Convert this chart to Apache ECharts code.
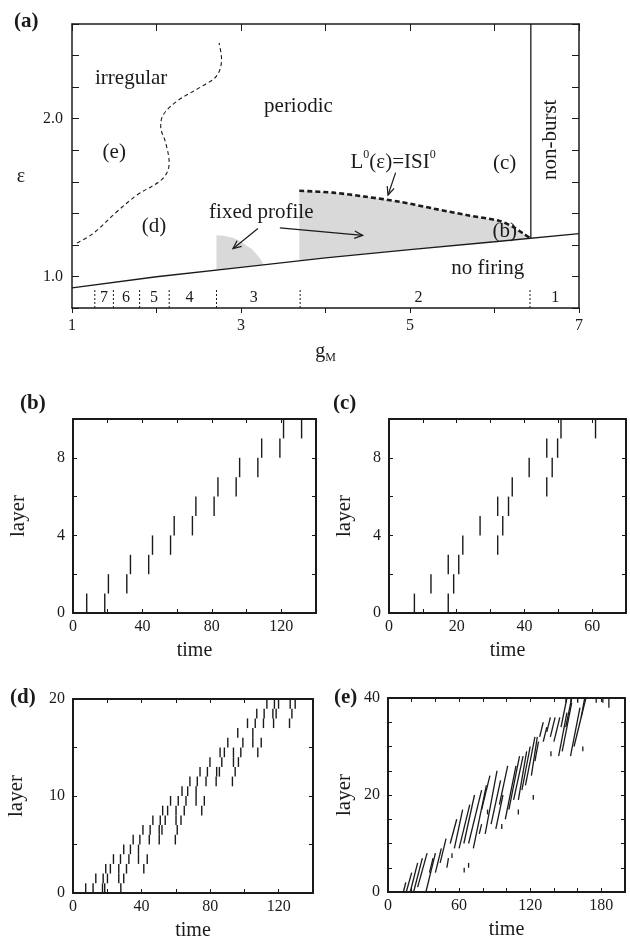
<!DOCTYPE html>
<html><head><meta charset="utf-8">
<script src="https://cdn.jsdelivr.net/npm/echarts@6/dist/echarts.min.js"></script>
<style>html,body{margin:0;padding:0;background:#fff}#c{width:630px;height:939px}</style>
</head><body><div id="c"></div>
<script>
// ================= DATA =================
// Panel (a): phase diagram in (g_M, epsilon)
const lineG = [1, 2, 3, 4, 5, 6, 7];                       // no-firing boundary
const lineE = [0.928, 0.998, 1.058, 1.118, 1.170, 1.220, 1.272];
const irrG = [1.06, 1.25, 1.53, 1.77, 2.03, 2.12, 2.15, 2.11, 2.05, 2.08, 2.24, 2.52, 2.71, 2.77, 2.74]; // irregular/periodic boundary
const irrE = [1.212, 1.272, 1.41, 1.516, 1.60, 1.654, 1.72, 1.845, 1.95, 2.025, 2.11, 2.20, 2.27, 2.376, 2.48];
const fpG = [3.69, 4.09, 4.48, 4.88, 5.27, 5.67, 6.06, 6.22, 6.34, 6.43];   // L0(eps)=ISI0 curve
const fpE = [1.543, 1.531, 1.505, 1.473, 1.431, 1.389, 1.352, 1.314, 1.272, 1.240];
const nbG = [6.43, 6.43];                                   // non-burst boundary
const nbE = [1.242, 2.6];
const blobG = [2.71, 2.71, 2.80, 2.905, 3.00, 3.06, 3.13, 3.18, 3.23, 3.27]; // small fixed-profile region
const blobE = [1.041, 1.261, 1.258, 1.246, 1.222, 1.197, 1.172, 1.144, 1.11, 1.074];
const reg2G = [3.69, 3.69, 4.09, 4.48, 4.88, 5.27, 5.67, 6.06, 6.22, 6.34, 6.43, 6.0, 5.0, 4.0]; // large fixed-profile region
const reg2E = [1.099, 1.543, 1.531, 1.505, 1.473, 1.431, 1.389, 1.352, 1.314, 1.272, 1.242, 1.220, 1.170, 1.118];
const divG = [1.27, 1.49, 1.80, 2.15, 2.71, 3.70, 6.42];   // burst-count dividers (bottom strip)
const divE = [0.80, 0.92];
const numG = [1.38, 1.64, 1.97, 2.39, 3.15, 5.10, 6.72];
const numE = 0.862;
const numTxt = ['7', '6', '5', '4', '3', '2', '1'];
const txtA = ['irregular', 'periodic', '(e)', '(d)', '(c)', '(b)', 'fixed profile', 'no firing', 'non-burst', '{n|L}{s|0}{n|(ε)=ISI}{s|0}'];
const txtG = [1.70, 3.68, 1.50, 1.97, 6.12, 6.12, 3.24, 5.92, 6.66, 4.80];
const txtE = [2.255, 2.08, 1.786, 1.314, 1.718, 1.282, 1.403, 1.049, 1.866, 1.732];
const txtRot = [0, 0, 0, 0, 0, 0, 0, 0, 90, 0];
const arrG0 = [4.83, 3.20, 3.46], arrE0 = [1.658, 1.304, 1.308];
const arrG1 = [4.74, 2.905, 4.44], arrE1 = [1.516, 1.176, 1.260];
const aTicksX = [1, 3, 5, 7];
const aTicksY = ['1.0', '2.0'];

// Panel (b): spike raster (time, layer)
const bTime = [7.9, 18.3, 20.4, 31.0, 33.1, 43.6, 45.8, 56.2, 58.3, 68.8, 70.8, 81.3, 83.5, 94.0, 96.0, 106.5, 108.7, 119.2, 121.3, 131.7];
const bLayer = [0, 0, 1, 1, 2, 2, 3, 3, 4, 4, 5, 5, 6, 6, 7, 7, 8, 8, 9, 9];
// Panel (c)
const cTime = [7.5, 12.4, 17.5, 17.5, 19.1, 20.6, 21.8, 26.9, 32.1, 32.1, 33.6, 35.3, 36.4, 41.4, 46.6, 46.6, 48.2, 49.8, 50.8, 61.0];
const cLayer = [0, 1, 0, 2, 1, 2, 3, 4, 3, 5, 4, 5, 6, 7, 6, 8, 7, 8, 9, 9];
// Panel (d)
const dTime = [7.4, 11.7, 13.3, 17.2, 17.6, 18.5, 19.1, 20.1, 21.8, 23.6, 26.7, 26.7, 27.7, 27.9, 29.6, 29.6, 31.2, 32.6, 33.5, 35.1,
  38.2, 38.2, 39.0, 40.8, 41.3, 43.3, 44.5, 45.0, 46.6, 50.3, 50.3, 50.9, 51.9, 52.3, 53.8, 55.2, 56.9, 59.7, 60.1, 60.1,
  60.8, 61.4, 63.0, 63.6, 64.9, 65.9, 66.9, 68.2, 71.8, 71.8, 72.5, 74.1, 75.1, 76.6, 77.6, 78.4, 79.9, 83.5, 83.8, 85.4,
  85.8, 86.8, 88.3, 90.3, 93.0, 93.6, 93.6, 94.6, 96.1, 96.5, 97.9, 99.1, 101.8, 104.9, 104.9, 106.3, 107.2, 107.8, 109.8, 111.1,
  111.5, 113.1, 116.6, 117.0, 117.5, 118.5, 119.9, 126.3, 126.7, 127.7, 129.6];
const dLayer = [0, 0, 1, 0, 1, 0, 2, 1, 2, 3, 1, 2, 3, 0, 4, 1, 2, 3, 4, 5,
  3, 4, 5, 6, 2, 3, 5, 6, 7, 5, 6, 7, 6, 8, 7, 8, 9, 5, 7, 8,
  6, 9, 7, 10, 8, 9, 10, 11, 9, 10, 11, 12, 8, 9, 11, 12, 13, 11, 12, 12,
  14, 13, 14, 15, 11, 13, 14, 12, 16, 13, 14, 15, 17, 15, 16, 17, 18, 14, 15, 17,
  18, 19, 18, 17, 19, 18, 19, 17, 19, 18, 19];
// Panel (e): spike streaks (start time, start layer, end time, end layer)
const eT0 = [13, 15.4, 18.8, 21.6, 25, 32, 35, 40, 44, 49.7, 54, 64.3, 68,
  52.5, 56, 60, 64, 68, 72, 77, 82, 87, 91, 84, 96,
  99, 102, 106, 110, 113, 116, 121, 110, 122.6,
  128, 131, 134, 137, 137.5, 144, 147, 154, 157, 164.4, 146, 150, 163,
  150.2, 154.5, 160.1, 175.7, 181.3, 186.4, 79, 94, 124, 140];
const eL0 = [0, 0, 0, 0, 1, 0, 4, 4, 6, 5, 7, 4, 5,
  10, 9, 9, 10, 10, 9, 12, 12, 14, 13, 16, 13,
  15, 17, 19, 19, 21, 22, 24, 16, 19,
  32, 31, 33, 32, 28, 28, 29, 28, 30, 29, 34, 34, 36,
  39, 39, 39, 39, 39, 38, 17, 18, 27, 31];
const eT1 = [15, 20, 25, 29, 33, 40, 38, 45, 49, 51, 54, 64.3, 68,
  58, 63, 69, 73, 79, 83, 79, 92, 95, 97, 84, 96,
  108, 111, 114, 117, 120, 124, 126, 110, 122.6,
  131, 134, 137, 141, 137.5, 151, 155, 162, 167, 164.4, 151, 155, 166,
  150.2, 154.5, 160.1, 175.7, 181.3, 186.4, 86, 101, 127, 145];
const eL1 = [2, 4, 6, 7, 8, 8, 7, 9, 11, 7, 8, 5, 6,
  15, 17, 18, 20, 21, 22, 14, 25, 23, 20, 17, 14,
  26, 28, 28, 29, 30, 32, 32, 17, 20,
  35, 34, 36, 36, 29, 37, 39, 38, 40, 30, 40, 40, 40,
  40, 40, 40, 40, 40, 40, 24, 26, 31, 36];

// ================= CHART =================
const F = "'Liberation Serif','DejaVu Serif',serif";
const INK = '#1a1a1a';
const chart = echarts.init(document.getElementById('c'), null, {renderer: 'canvas'});

function modFmt(m) { return v => (Math.abs(v / m - Math.round(v / m)) < 1e-6 ? String(Math.round(v)) : ''); }

function axes(kind, gi, c) {
  const base = () => ({gridIndex: gi, type: 'value', min: c.min, max: c.max, interval: c.interval,
    splitLine: {show: false}, axisLine: {show: true, onZero: false, lineStyle: {color: INK, width: c.lw}}});
  const main = Object.assign(base(), {
    position: kind === 'x' ? 'bottom' : 'left',
    axisTick: {show: true, inside: !c.outside, length: c.tick, lineStyle: {color: INK, width: 1}},
    axisLabel: {show: true, formatter: c.fmt, margin: c.margin, fontFamily: F, fontSize: 16, color: INK,
      hideOverlap: false, showMinLabel: true, showMaxLabel: true},
    name: c.name || '', nameLocation: 'middle', nameGap: c.nameGap || 0, nameRotate: kind === 'y' ? 90 : 0,
    nameTextStyle: Object.assign({fontFamily: F, fontSize: 20, color: INK}, c.nameStyle || {})
  });
  const mirror = Object.assign(base(), {
    position: kind === 'x' ? 'top' : 'right',
    axisTick: {show: true, inside: true, length: c.mtick || c.tick, lineStyle: {color: INK, width: 1}},
    axisLabel: {show: false}
  });
  return [main, mirror];
}

const grids = [
  {left: 72, top: 24, width: 507, height: 284},
  {left: 73, top: 419, width: 243, height: 194},
  {left: 389, top: 419, width: 237, height: 194},
  {left: 73, top: 699, width: 240, height: 194},
  {left: 388, top: 698, width: 237, height: 194}
].map(g => Object.assign(g, {outerBoundsMode: 'none', containLabel: false, show: false}));

const xAxes = [].concat(
  axes('x', 0, {min: 1, max: 7, interval: 1, lw: 1.5, tick: 5, mtick: 7, outside: true, margin: 10,
    fmt: v => (aTicksX.indexOf(Math.round(v)) >= 0 && Math.abs(v - Math.round(v)) < 1e-6 ? String(Math.round(v)) : ''),
    name: '{g|g}{s|M}', nameGap: 32,
    nameStyle: {rich: {g: {fontFamily: F, fontSize: 20, color: INK, lineHeight: 24}, s: {fontFamily: F, fontSize: 12, color: INK, lineHeight: 24, verticalAlign: 'bottom', padding: [12, 0, 0, 0]}}}}),
  axes('x', 1, {min: 0, max: 140, interval: 20, lw: 2, tick: 4, margin: 6, fmt: modFmt(40), name: 'time', nameGap: 28}),
  axes('x', 2, {min: 0, max: 70, interval: 10, lw: 2, tick: 4, margin: 6, fmt: modFmt(20), name: 'time', nameGap: 28}),
  axes('x', 3, {min: 0, max: 140, interval: 20, lw: 2, tick: 4, margin: 6, fmt: modFmt(40), name: 'time', nameGap: 28}),
  axes('x', 4, {min: 0, max: 200, interval: 20, lw: 2, tick: 4, margin: 6, fmt: modFmt(60), name: 'time', nameGap: 28})
);
const yAxes = [].concat(
  axes('y', 0, {min: 0.8, max: 2.6, interval: 0.2, lw: 1.5, tick: 7, margin: 9,
    fmt: v => (Math.abs(v - 1) < 1e-6 ? aTicksY[0] : (Math.abs(v - 2) < 1e-6 ? aTicksY[1] : ''))}),
  axes('y', 1, {min: 0, max: 10, interval: 2, lw: 2, tick: 4, margin: 8, fmt: modFmt(4), name: 'layer', nameGap: 44, nameStyle: {fontSize: 21}}),
  axes('y', 2, {min: 0, max: 10, interval: 2, lw: 2, tick: 4, margin: 8, fmt: modFmt(4), name: 'layer', nameGap: 34, nameStyle: {fontSize: 21}}),
  axes('y', 3, {min: 0, max: 20, interval: 5, lw: 2, tick: 4, margin: 8, fmt: modFmt(10), name: 'layer', nameGap: 46, nameStyle: {fontSize: 21}}),
  axes('y', 4, {min: 0, max: 40, interval: 5, lw: 2, tick: 4, margin: 8, fmt: modFmt(20), name: 'layer', nameGap: 33, nameStyle: {fontSize: 21}})
);

const onA = {xAxisIndex: 0, yAxisIndex: 0};
function polySeries(G, E, z) {
  return Object.assign({type: 'custom', silent: true, z: z, data: G.map((g, i) => [g, E[i]]),
    renderItem: (p, api) => {
      if (p.dataIndex !== 0) return null;
      const pts = G.map((g, i) => api.coord([g, E[i]]));
      return {type: 'polygon', shape: {points: pts}, style: {fill: '#d9d9d9', stroke: null}};
    }}, onA);
}
function lineSeries(G, E, style, smooth, z) {
  return Object.assign({type: 'line', silent: true, z: z, symbol: 'none', smooth: smooth, animation: false,
    data: G.map((g, i) => [g, E[i]]), lineStyle: Object.assign({color: INK}, style)}, onA);
}
function rasterSeries(gi, T, L, w) {
  return {type: 'custom', silent: true, xAxisIndex: 2 * gi, yAxisIndex: 2 * gi, z: 3,
    data: T.map((t, i) => [t, L[i]]),
    renderItem: (p, api) => {
      const a = api.coord([api.value(0), api.value(1)]);
      const b = api.coord([api.value(0), api.value(1) + 1]);
      return {type: 'line', shape: {x1: a[0], y1: a[1], x2: b[0], y2: b[1]}, style: {stroke: INK, lineWidth: w}};
    }};
}

const series = [
  polySeries(blobG, blobE, 1),
  polySeries(reg2G, reg2E, 1),
  lineSeries(lineG, lineE, {width: 1.3, type: 'solid'}, false, 4),
  lineSeries(nbG, nbE, {width: 1.3, type: 'solid'}, false, 4),
  lineSeries(irrG, irrE, {width: 1.1, type: [4, 3]}, 0.35, 4),
  lineSeries(fpG, fpE, {width: 2.6, type: [5, 3]}, 0.3, 5),
  // bottom-strip dividers
  Object.assign({type: 'custom', silent: true, z: 4, data: divG.map(g => [g, divE[0], g, divE[1]]),
    renderItem: (p, api) => {
      const a = api.coord([api.value(0), api.value(1)]), b = api.coord([api.value(2), api.value(3)]);
      return {type: 'line', shape: {x1: a[0], y1: a[1], x2: b[0], y2: b[1]}, style: {stroke: INK, lineWidth: 1, lineDash: [2, 2]}};
    }}, onA),
  // strip numbers
  Object.assign({type: 'custom', silent: true, z: 6, data: numG.map(g => [g, numE]),
    renderItem: (p, api) => {
      const a = api.coord([api.value(0), api.value(1)]);
      return {type: 'text', x: a[0], y: a[1], style: {text: numTxt[p.dataIndex], fill: INK, font: '16px ' + F, align: 'center', verticalAlign: 'middle'}};
    }}, onA),
  // region labels
  Object.assign({type: 'custom', silent: true, z: 6, data: txtG.map((g, i) => [g, txtE[i]]),
    renderItem: (p, api) => {
      const i = p.dataIndex;
      const a = api.coord([api.value(0), api.value(1)]);
      return {type: 'text', x: a[0], y: a[1], rotation: txtRot[i] * Math.PI / 180,
        style: {text: txtA[i], fill: INK, font: '21px ' + F, align: 'center', verticalAlign: 'middle',
          rich: {n: {fontFamily: F, fontSize: 21, color: INK, lineHeight: 24, verticalAlign: 'bottom'},
                 s: {fontFamily: F, fontSize: 12, color: INK, lineHeight: 24, verticalAlign: 'top', padding: [0, 0, 10, 0]}}}};
    }}, onA),
  // arrows
  Object.assign({type: 'custom', silent: true, z: 6, data: arrG0.map((g, i) => [g, arrE0[i], arrG1[i], arrE1[i]]),
    renderItem: (p, api) => {
      const a = api.coord([api.value(0), api.value(1)]), b = api.coord([api.value(2), api.value(3)]);
      const ang = Math.atan2(b[1] - a[1], b[0] - a[0]), h = 9, s = 0.42;
      const l = [b[0] - h * Math.cos(ang - s), b[1] - h * Math.sin(ang - s)];
      const r = [b[0] - h * Math.cos(ang + s), b[1] - h * Math.sin(ang + s)];
      return {type: 'group', children: [
        {type: 'line', shape: {x1: a[0], y1: a[1], x2: b[0], y2: b[1]}, style: {stroke: INK, lineWidth: 1.2}},
        {type: 'polyline', shape: {points: [l, b, r]}, style: {stroke: INK, lineWidth: 1.2, fill: null}}
      ]};
    }}, onA),
  rasterSeries(1, bTime, bLayer, 1.4),
  rasterSeries(2, cTime, cLayer, 1.4),
  rasterSeries(3, dTime, dLayer, 1.4),
  {type: 'custom', silent: true, xAxisIndex: 8, yAxisIndex: 8, z: 3,
    data: eT0.map((t, i) => [t, eL0[i], eT1[i], eL1[i]]),
    renderItem: (p, api) => {
      let y1 = api.value(3);
      if (y1 === api.value(1)) y1 += 1;
      const a = api.coord([api.value(0), api.value(1)]), b = api.coord([api.value(2), y1]);
      return {type: 'line', shape: {x1: a[0], y1: a[1], x2: b[0], y2: b[1]}, style: {stroke: INK, lineWidth: 1.3}};
    }}
];

const panelLbl = (t, x, y) => ({type: 'text', x: x, y: y, style: {text: t, font: 'bold 21px ' + F, fill: INK, verticalAlign: 'middle'}});

chart.setOption({
  animation: false,
  backgroundColor: '#fff',
  grid: grids,
  xAxis: xAxes,
  yAxis: yAxes,
  series: series,
  graphic: [
    panelLbl('(a)', 14, 22),
    panelLbl('(b)', 20, 404),
    panelLbl('(c)', 333, 404),
    panelLbl('(d)', 10, 698),
    panelLbl('(e)', 334, 698),
    {type: 'text', x: 21, y: 177, style: {text: 'ε', font: '20px ' + F, fill: INK, align: 'center', verticalAlign: 'middle'}}
  ]
});
</script></body></html>
